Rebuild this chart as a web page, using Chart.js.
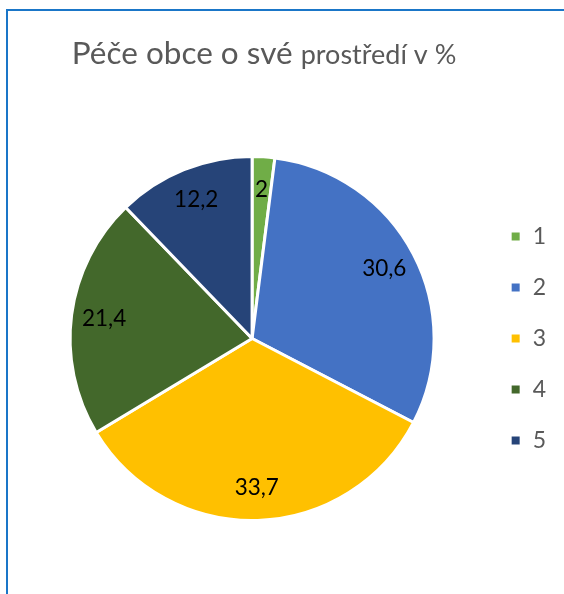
<!DOCTYPE html>
<html>
<head>
<meta charset="utf-8">
<script src="https://cdn.jsdelivr.net/npm/chart.js@4"></script>
<style>
  html, body { margin: 0; padding: 0; background: #fff; }
  #wrap { position: relative; width: 564px; height: 594px; overflow: hidden; }
  #frame { position: absolute; left: 6px; top: 9px; width: 600px; height: 640px;
           border-left: 2px solid #1a76c8; border-top: 2px solid #1a76c8; }
  canvas { position: absolute; left: 0; top: 0; }
</style>
</head>
<body>
<div id="wrap">
  <div id="frame"></div>
  <canvas id="pieChart" width="564" height="594"></canvas>
</div>
<script>
const labels = ['1', '2', '3', '4', '5'];
const values = [2, 30.6, 33.7, 21.4, 12.2];
const colors = ['#70ad47', '#4472c4', '#ffc000', '#43682b', '#264478'];

const fontFamily = 'Lato, "Noto Sans", sans-serif';

// titulek ma dve velikosti pisma, proto vlastni plugin
const titlePlugin = {
    id: 'mixedTitle',
    afterDraw(chart) {
        const ctx = chart.ctx;
        const partA = 'Péče obce o své ';
        const partB = 'prostředí v %';
        ctx.save();
        ctx.fillStyle = '#595959';
        ctx.textBaseline = 'alphabetic';
        ctx.font = '31.5px ' + fontFamily;
        const wA = ctx.measureText(partA).width;
        ctx.font = '27px ' + fontFamily;
        const wB = ctx.measureText(partB).width;
        let x = 264 - (wA + wB) / 2;
        ctx.font = '31.5px ' + fontFamily;
        ctx.fillText(partA, x, 64);
        ctx.font = '27px ' + fontFamily;
        ctx.fillText(partB, x + wA, 64);
        ctx.restore();
    }
};

const labelPlugin = {
    id: 'sliceLabels',
    afterDatasetsDraw(chart) {
        const ctx = chart.ctx;
        const meta = chart.getDatasetMeta(0);
        ctx.save();
        ctx.fillStyle = '#000';
        ctx.font = '22.5px ' + fontFamily;
        ctx.textAlign = 'center';
        ctx.textBaseline = 'middle';
        meta.data.forEach((arc, i) => {
            const p = arc.getProps(['x', 'y', 'startAngle', 'endAngle', 'outerRadius']);
            const mid = (p.startAngle + p.endAngle) / 2;
            const r = p.outerRadius * 0.82;
            const txt = String(values[i]).replace('.', ',');
            ctx.fillText(txt, p.x + Math.cos(mid) * r, p.y + Math.sin(mid) * r);
        });
        ctx.restore();
    }
};

new Chart(document.getElementById('pieChart').getContext('2d'), {
    type: 'pie',
    data: {
        labels: labels,
        datasets: [{
            data: values,
            backgroundColor: colors,
            borderColor: '#ffffff',
            borderWidth: 3
        }]
    },
    options: {
        responsive: false,
        animation: false,
        layout: { padding: { top: 155, bottom: 72, left: 22, right: 8 } },
        plugins: {
            title: { display: false },
            tooltip: { enabled: false },
            legend: {
                position: 'right',
                labels: {
                    boxWidth: 11,
                    boxHeight: 11,
                    padding: 28,
                    color: '#595959',
                    font: { size: 23, family: fontFamily }
                }
            }
        }
    },
    plugins: [titlePlugin, labelPlugin]
});
</script>
</body>
</html>
